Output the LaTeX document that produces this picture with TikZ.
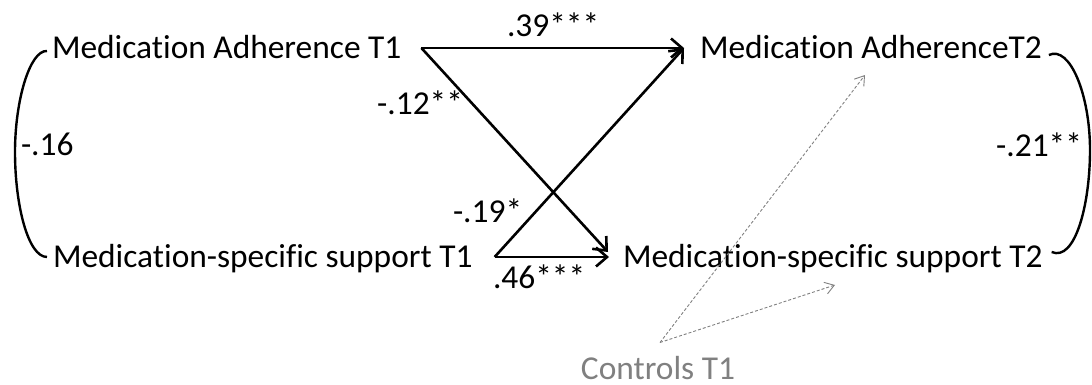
\documentclass[tikz,border=0pt]{standalone}
\usepackage{fontspec}
\setmainfont{Carlito}[Ligatures=NoCommon]
\usetikzlibrary{arrows.meta,calc}
\definecolor{ctrlgray}{HTML}{808080}
\tikzset{
  var/.style={inner sep=0pt, outer sep=0pt, text height=21pt, text depth=0pt, font=\fontsize{33.4}{40}\selectfont},
  coef/.style={inner sep=0pt, outer sep=0pt, font=\fontsize{33.4}{40}\selectfont},
  path/.style={line width=2.6pt, -{Straight Barb[length=11pt,width=19pt,line width=2.6pt]}},
  corr/.style={line width=2.4pt},
  ctrlarrow/.style={ctrlgray, line width=0.9pt, dash pattern=on 3pt off 2pt, -{Straight Barb[length=9pt,width=12pt,line width=0.9pt]}}
}
\begin{document}
\begin{tikzpicture}[x=1pt,y=-1pt]
\useasboundingbox (0,0) rectangle (1092,385);
% variables
\node[var, anchor=west] (ma1) at (52,48) {Medication Adherence T1};
\node[var, anchor=west] (ms1) at (53,257) {Medication-specific support T1};
\node[var, anchor=west] (ma2) at (700,48) {Medication AdherenceT2};
\node[var, anchor=west] (ms2) at (623,257) {Medication-specific support T2};
\node[var, anchor=center, text=ctrlgray] (ctrl) at (658,369) {Controls T1};
% start/end points
\coordinate (a1) at ($(ma1.east)+(20,0)$);
\coordinate (b1) at ($(ms1.east)+(22,0)$);
\coordinate (a2) at ($(ma2.west)+(-16,0)$);
\coordinate (b2) at ($(ms2.west)+(-14,0)$);
\coordinate (b2d) at ($(ms2.west)+(-15,-5)$);
% paths
\draw[path] (a1) -- (a2);
\draw[path] (a1) -- (b2d);
\draw[path] (b1) -- (a2);
\draw[path] (b1) -- (b2);
% coefficients
\node[coef, anchor=base west] (c39) at (507,37) {.39***};
\node[coef, anchor=base east] (c12) at (463,115) {-.12**};
\node[coef, anchor=base west] (c19) at (453,222) {-.19*};
\node[coef, anchor=base west] (c46) at (493,288) {.46***};
\node[coef, anchor=base west] (c16) at (21,155) {-.16};
\node[coef, anchor=base east] (c21) at (1082,157) {-.21**};
% correlations
\draw[corr] ($(ma1.west)+(-5,3)$) .. controls (30,50) and (15,100) .. (15,152)
  .. controls (15,205) and (28,257) .. ($(ms1.west)+(-6,0)$);
\draw[corr] ($(ma2.east)+(7,7)$) .. controls (1070,45) and (1090,95) .. (1090,150)
  .. controls (1090,205) and (1075,262) .. ($(ms2.east)+(9,-5)$);
% controls
\coordinate (c0) at ($(ctrl.north)+(2,-16)$);
\coordinate (t1) at (865,75);
\coordinate (t2) at (835,285);
\draw[ctrlarrow] (c0) -- (t1);
\draw[ctrlarrow] (c0) -- (t2);
\end{tikzpicture}
\end{document}
